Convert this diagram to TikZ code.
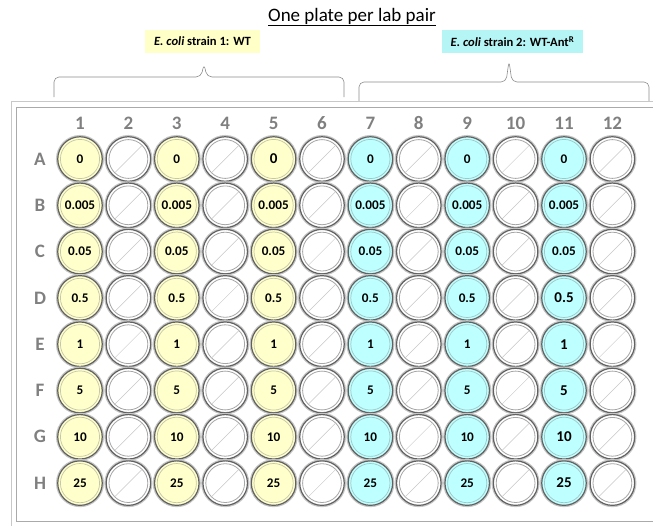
\documentclass[tikz,border=0pt]{standalone}
\usepackage{fontspec}
\setmainfont{Carlito}
\usepackage{xcolor}
\usepackage{tikz}
\usetikzlibrary{positioning, calc}
\definecolor{wtbg}{RGB}{255,255,204}
\definecolor{antbg}{RGB}{190,255,255}
\definecolor{wtbox}{RGB}{255,255,200}
\definecolor{antbox}{RGB}{182,245,245}
\definecolor{platebd}{RGB}{200,200,200}
\definecolor{labgray}{RGB}{128,128,128}

% wells whose label is printed larger
\tikzset{
    big/.style={font=\bfseries\fontsize{15}{15}\selectfont},
    w-1-5/.style={big}, w-4-11/.style={big}, w-5-11/.style={big},
    w-6-11/.style={big}, w-7-11/.style={big}, w-8-11/.style={big}
}

\begin{document}
\begin{tikzpicture}[x=1pt, y=-1pt,
        well/.style={circle, minimum size=44.5pt, inner sep=0pt, draw=black!62, line width=1.2pt,
            preaction={draw=black!22, line width=3.6pt},
            font=\bfseries\fontsize{13.2}{13.2}\selectfont},
        wtwell/.style={well, fill=wtbg, path picture={\draw[wtbg!55!gray, line width=0.7pt] (path picture bounding box.center) circle (19.6pt);}},
        antwell/.style={well, fill=antbg, path picture={\draw[antbg!55!gray, line width=0.7pt] (path picture bounding box.center) circle (19.6pt);}},
        emptywell/.style={well, fill=white, path picture={
            \draw[black!35, line width=0.8pt] (path picture bounding box.center) circle (19.4pt);
            \draw[black!22, line width=0.5pt] ($(path picture bounding box.center)+(225:19pt)$) -- ($(path picture bounding box.center)+(45:19pt)$);}},
        plate/.style={font=\bfseries\fontsize{19}{19}\selectfont, text=labgray},
        strain/.style={rectangle, inner xsep=9pt, minimum height=23pt, font=\bfseries\fontsize{12.6}{14}\selectfont},
        brace/.style={draw=black!45, line width=0.6pt, rounded corners=5pt}
    ]
    \useasboundingbox (0,0) rectangle (653,525);
    \clip (0,0) rectangle (653,525);

    % title and strain labels
    \node (title) at (352,17) {\fontsize{19}{21}\selectfont\underline{One plate per lab pair}};
    \node[strain, fill=wtbox] (wt) at (202.5,41.5) {\textit{E. coli} strain 1: WT};
    \node[strain, fill=antbox] (ant) at (512.5,41.5) {\textit{E. coli} strain 2: WT-Ant\textsuperscript{R}};

    % braces
    \coordinate (b1l) at (54,97);  \coordinate (b1r) at (344,97);  \coordinate (b1t) at (204,64);
    \coordinate (b2l) at (359,101); \coordinate (b2r) at (649,101); \coordinate (b2t) at (509,61);
    \draw[brace] (b1l) -- (b1l |- 0,77) -- ($(b1t |- 0,77)+(-3,0)$) -- (b1t) -- ($(b1t |- 0,77)+(3,0)$) -- (b1r |- 0,77) -- (b1r);
    \draw[brace] (b2l) -- (b2l |- 0,82) -- ($(b2t |- 0,82)+(-3,0)$) -- (b2t) -- ($(b2t |- 0,82)+(3,0)$) -- (b2r |- 0,82) -- (b2r);

    % plate outline
    \draw[platebd, line width=1pt] (11,530) -- (11,101) -- (660,101);
    \draw[platebd!85!black, line width=0.8pt] (660,521) -- (16,521) -- (16,107.5) -- (660,107.5);

    % column numbers and row letters
    \foreach \c in {1,...,12}
        \node[plate] (col\c) at ({80+(\c-1)*48.4},123) {\c};
    \foreach \r [count=\i] in {A,B,C,D,E,F,G,H}
        \node[plate] (row\r) at (40,{159+(\i-1)*46.3}) {\r};

    % wells
    \foreach \v [count=\i] in {0,0.005,0.05,0.5,1,5,10,25} {
        \foreach \c in {1,3,5}
            \node[wtwell, w-\i-\c/.try] (w-\i-\c) at ({80+(\c-1)*48.4},{159+(\i-1)*46.3}) {\v};
        \foreach \c in {7,9,11}
            \node[antwell, w-\i-\c/.try] (w-\i-\c) at ({80+(\c-1)*48.4},{159+(\i-1)*46.3}) {\v};
        \foreach \c in {2,4,...,12}
            \node[emptywell] (w-\i-\c) at ({80+(\c-1)*48.4},{159+(\i-1)*46.3}) {};
    }

\end{tikzpicture}
\end{document}
